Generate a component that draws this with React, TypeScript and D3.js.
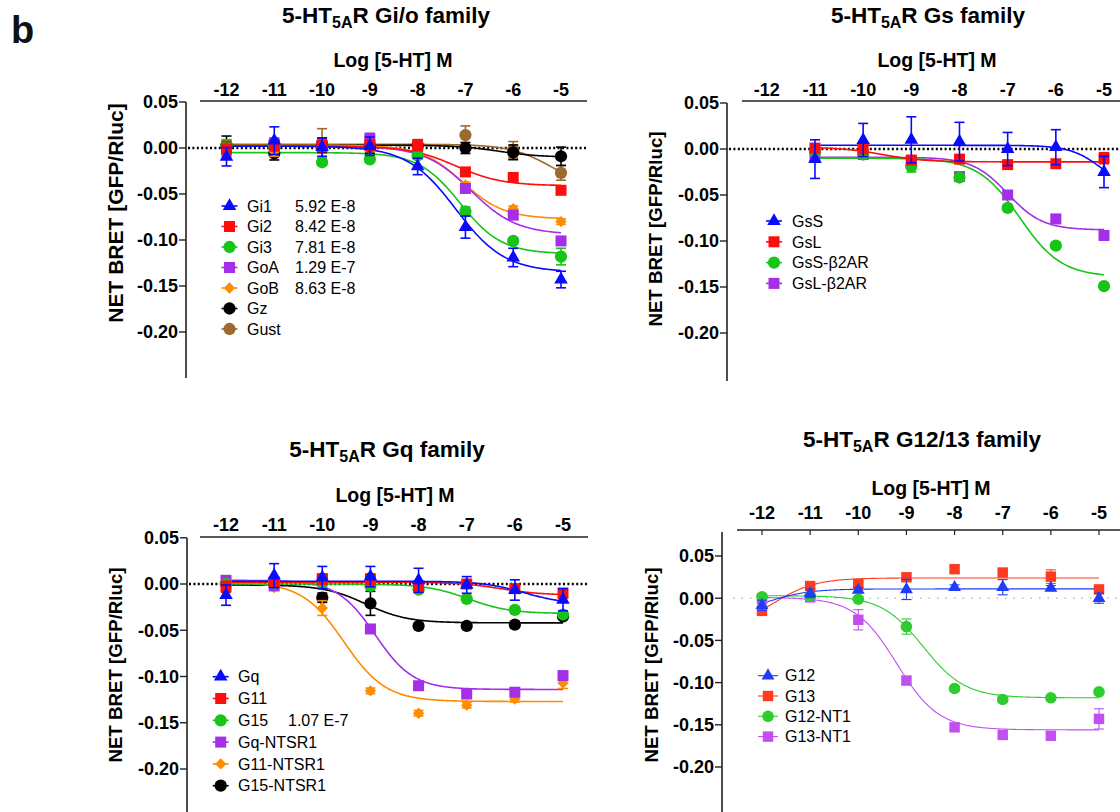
import React from 'react';
import * as d3 from 'd3';

const FONT = '"Liberation Sans", Arial, Helvetica, sans-serif';

// x values (log [5-HT] M)
const doses = [-12, -11, -10, -9, -8, -7, -6, -5];
const dosesGs = [-11, -10, -9, -8, -7, -6, -5];
const xTicks = [-12, -11, -10, -9, -8, -7, -6, -5];
const yTicks = [0.05, 0, -0.05, -0.1, -0.15, -0.2];

// ---- Gi/o family ----
const giNames = ['Gi1', 'Gi2', 'Gi3', 'GoA', 'GoB', 'Gz', 'Gust'];
const giEC50 = ['5.92 E-8', '8.42 E-8', '7.81 E-8', '1.29 E-7', '8.63 E-8', '', ''];
const giColors = ['#0a0aff', '#ff0d0d', '#19c419', '#a52ee8', '#ff8c00', '#000000', '#9a6a2f'];
const giShapes = ['tri', 'sq', 'circ', 'sq', 'dia', 'circ', 'circ'];
const giMeans = [
  [-0.0095, 0.008, 0.001, 0.002, -0.02, -0.086, -0.119, -0.143],
  [-0.001, 0.003, 0.002, 0.003, 0.003, -0.026, -0.032, -0.046],
  [0.003, 0.002, -0.0155, -0.0123, -0.008, -0.069, -0.101, -0.118],
  [0.0, 0.004, 0.003, 0.01, -0.006, -0.044, -0.073, -0.101],
  [0.003, -0.004, 0.002, 0.003, -0.002, -0.04, -0.066, -0.08],
  [0.003, -0.006, 0.003, 0.002, 0.003, 0.0, -0.0047, -0.009],
  [0.003, 0.005, 0.005, 0.003, 0.003, 0.014, -0.002, -0.027],
];
const giErrors = [
  [0.01, 0.015, 0.01, 0.01, 0.009, 0.012, 0.01, 0.009],
  [0.008, 0.006, 0.006, 0.006, 0.006, 0.004, 0.003, 0.004],
  [0.006, 0.005, 0.003, 0.003, 0.004, 0.005, 0.003, 0.009],
  [0.007, 0.006, 0.006, 0.006, 0.004, 0.005, 0.004, 0.004],
  [0.005, 0.005, 0.005, 0.005, 0.003, 0.003, 0.003, 0.003],
  [0.01, 0.007, 0.008, 0.008, 0.006, 0.006, 0.008, 0.01],
  [0.006, 0.006, 0.016, 0.008, 0.005, 0.01, 0.009, 0.008],
];
// fit params: [start, end, logEC50, hill]
const giFits = [
  [0.002, -0.135, -7.2, 0.85],
  [0.002, -0.041, -7.2, 0.9],
  [-0.005, -0.115, -7.11, 1],
  [0.002, -0.094, -6.89, 0.9],
  [0.003, -0.077, -7.06, 1],
  [0.003, -0.01, -6.3, 1],
  [0.004, -0.045, -5.2, 1],
];

// ---- Gs family ----
const gsNames = ['GsS', 'GsL', 'GsS-β2AR', 'GsL-β2AR'];
const gsColors = ['#0a0aff', '#ff0d0d', '#19c419', '#a52ee8'];
const gsShapes = ['tri', 'sq', 'circ', 'sq'];
const gsMeans = [
  [-0.011, 0.0098, 0.01, 0.008, 0.0, 0.002, -0.025],
  [0.001, 0.0, -0.012, -0.011, -0.017, -0.016, -0.01],
  [-0.003, -0.006, -0.019, -0.031, -0.064, -0.105, -0.149],
  [-0.008, -0.006, -0.014, -0.03, -0.05, -0.076, -0.094],
];
const gsErrors = [
  [0.021, 0.018, 0.025, 0.021, 0.018, 0.019, 0.017],
  [0.003, 0.003, 0.003, 0.003, 0.003, 0.003, 0.006],
  [0.003, 0.003, 0.006, 0.003, 0.003, 0.003, 0.003],
  [0.003, 0.003, 0.003, 0.003, 0.003, 0.003, 0.003],
];
const gsFits = [
  [0.004, -0.05, -5.0, 1.3],
  [0.002, -0.014, -9.6, 1],
  [-0.01, -0.139, -6.75, 1],
  [-0.009, -0.088, -7.0, 1.2],
];

// ---- Gq family ----
const gqNames = ['Gq', 'G11', 'G15', 'Gq-NTSR1', 'G11-NTSR1', 'G15-NTSR1'];
const gqEC50 = ['', '', '1.07 E-7', '', '', ''];
const gqColors = ['#0a0aff', '#ff0d0d', '#19c419', '#a52ee8', '#ff8c00', '#000000'];
const gqShapes = ['tri', 'sq', 'circ', 'sq', 'dia', 'circ'];
const gqMeans = [
  [-0.012, 0.009, 0.007, 0.008, 0.004, -0.001, -0.0065, -0.017],
  [-0.003, 0.002, 0.005, 0.005, -0.002, 0.0, -0.005, -0.01],
  [0.0, 0.001, 0.001, -0.002, -0.006, -0.016, -0.028, -0.033],
  [0.004, -0.002, 0.006, -0.0486, -0.11, -0.119, -0.117, -0.099],
  [0.003, -0.004, -0.026, -0.1155, -0.1397, -0.131, -0.1245, -0.107],
  [0.0, 0.0, -0.0148, -0.0209, -0.0454, -0.0454, -0.044, -0.035],
];
const gqErrors = [
  [0.011, 0.013, 0.012, 0.011, 0.013, 0.009, 0.011, 0.012],
  [0.006, 0.005, 0.005, 0.006, 0.004, 0.004, 0.004, 0.005],
  [0.003, 0.003, 0.003, 0.003, 0.003, 0.003, 0.003, 0.003],
  [0.003, 0.003, 0.003, 0.003, 0.004, 0.004, 0.004, 0.004],
  [0.003, 0.003, 0.008, 0.003, 0.003, 0.003, 0.003, 0.006],
  [0.006, 0.003, 0.005, 0.013, 0.003, 0.003, 0.003, 0.003],
];
const gqFits = [
  [0.003, -0.022, -5.8, 1],
  [0.002, -0.012, -6.3, 1],
  [0.0, -0.032, -6.97, 1],
  [0.004, -0.114, -8.9, 1.1],
  [0.002, -0.127, -9.55, 1],
  [-0.001, -0.042, -9.1, 1],
];

// ---- G12/13 family ----
const g12Names = ['G12', 'G13', 'G12-NT1', 'G13-NT1'];
const g12Colors = ['#1f3df5', '#ff3b1f', '#2ecc2e', '#c24ff0'];
const g12Shapes = ['tri', 'sq', 'circ', 'sq'];
const g12Means = [
  [-0.0084, 0.0056, 0.0096, 0.0104, 0.0128, 0.013, 0.012, 0.0],
  [-0.015, 0.0144, 0.0168, 0.0248, 0.0344, 0.0304, 0.0256, 0.0104],
  [0.0016, 0.0024, -0.0012, -0.0336, -0.107, -0.12, -0.118, -0.111],
  [-0.001, 0.001, -0.0256, -0.0976, -0.153, -0.162, -0.163, -0.143],
];
const g12Errors = [
  [0.006, 0.005, 0.003, 0.012, 0.003, 0.009, 0.003, 0.006],
  [0.004, 0.003, 0.003, 0.004, 0.003, 0.003, 0.008, 0.003],
  [0.004, 0.003, 0.003, 0.009, 0.003, 0.003, 0.003, 0.003],
  [0.003, 0.003, 0.012, 0.004, 0.003, 0.003, 0.003, 0.012],
];
const g12Fits = [
  [-0.02, 0.011, -11.9, 1],
  [-0.035, 0.024, -11.75, 1],
  [0.003, -0.118, -8.65, 1],
  [0.001, -0.156, -9.2, 1],
];

const fit4pl = (p: number[], x: number) => p[1] + (p[0] - p[1]) / (1 + Math.pow(10, (x - p[2]) * p[3]));

const symbolPath = (shape: string, light: boolean) => {
  const k = light ? 0.9 : 1;
  if (shape === 'tri') return d3.symbol(d3.symbolTriangle, 80 * k)()!;
  if (shape === 'sq') return d3.symbol(d3.symbolSquare, 121 * k)()!;
  if (shape === 'dia') return d3.symbol(d3.symbolSquare, 64 * k)()!;
  return d3.symbol(d3.symbolCircle, 118 * k)()!;
};

const Marker = ({ shape, color, x, y, light }: any) => (
  <path
    d={symbolPath(shape, light)}
    fill={color}
    transform={`translate(${x},${y})${shape === 'dia' ? ' rotate(45)' : ''}`}
  />
);

const Title = ({ x, y, family }: any) => (
  <text x={x} y={y} textAnchor="middle" fontSize={22.5} fontWeight="bold" fontFamily={FONT}>
    5-HT<tspan dy={5} fontSize={16}>5A</tspan>
    <tspan dy={-5}>R {family} family</tspan>
  </text>
);

const Panel = ({ cfg }: any) => {
  const x = d3.scaleLinear().domain([-12, -5]).range(cfg.xr);
  const y = d3.scaleLinear().domain([0.05, -0.2]).range(cfg.yr);
  const lw = cfg.light ? 1.1 : 1.6;
  const line = d3.line<number>().x((d) => x(d)).y((d) => y(0));
  const order = cfg.names.map((_: string, i: number) => i).reverse();
  const curveXs = d3.range(cfg.curveStart, -5 + 1e-9, 0.02);
  return (
    <g fontFamily={FONT}>
      <Title x={cfg.titleX} y={cfg.titleY} family={cfg.family} />
      <text x={cfg.axLabX} y={cfg.axLabY} textAnchor="middle" fontSize={19.5} fontWeight="bold">
        Log [5-HT] M
      </text>
      {/* top x axis */}
      <line x1={cfg.xAxisFrom} x2={cfg.xAxisTo} y1={cfg.xAxisY} y2={cfg.xAxisY} stroke="#222" strokeWidth={1.6} />
      {xTicks.map((t) => (
        <g key={t}>
          {cfg.ticksDown && (
            <line x1={x(t)} x2={x(t)} y1={cfg.xAxisY} y2={cfg.xAxisY + 5} stroke="#222" strokeWidth={1.2} />
          )}
          <text x={x(t)} y={cfg.tickLabelY} textAnchor="middle" fontSize={18} fontWeight="bold">
            {t}
          </text>
        </g>
      ))}
      {/* y axis */}
      <line x1={cfg.yAxisX} x2={cfg.yAxisX} y1={cfg.yAxisTop} y2={cfg.yAxisBottom} stroke="#222" strokeWidth={1.6} />
      {yTicks.map((t) => (
        <g key={t}>
          <line x1={cfg.yAxisX - 7} x2={cfg.yAxisX} y1={y(t)} y2={y(t)} stroke="#222" strokeWidth={1.4} />
          <text x={cfg.yAxisX - 8} y={y(t)} dy="0.36em" textAnchor="end" fontSize={18} fontWeight="bold">
            {t.toFixed(2)}
          </text>
        </g>
      ))}
      <text
        transform={`translate(${cfg.yLabX},${cfg.yLabY}) rotate(-90)`}
        textAnchor="middle"
        dy="0.36em"
        fontSize={cfg.yLabSize}
        fontWeight="bold"
      >
        NET BRET [GFP/Rluc]
      </text>
      {/* zero line */}
      <path
        d={line([cfg.zeroFrom, cfg.zeroTo].map((v: number) => x.invert(v)))!}
        stroke={cfg.light ? '#b0b0b0' : '#000'}
        strokeWidth={cfg.light ? 1.2 : 2.4}
        strokeDasharray={cfg.light ? '1.5 7' : '2 2.4'}
        fill="none"
      />
      {/* fitted curves */}
      {order.map((i: number) => (
        <path
          key={'c' + i}
          d={d3.line<number>().x((d) => x(d)).y((d) => y(fit4pl(cfg.fits[i], d)))(curveXs)!}
          stroke={cfg.colors[i]}
          strokeWidth={lw}
          fill="none"
        />
      ))}
      {/* error bars + points */}
      {order.map((i: number) => (
        <g key={'s' + i}>
          {cfg.doses.map((dz: number, j: number) => {
            const m = cfg.means[i][j];
            const e = cfg.errors[i][j];
            const px = x(dz);
            return (
              <g key={j} stroke={cfg.colors[i]} strokeWidth={lw}>
                <line x1={px} x2={px} y1={y(m - e)} y2={y(m + e)} />
                <line x1={px - 5} x2={px + 5} y1={y(m - e)} y2={y(m - e)} />
                <line x1={px - 5} x2={px + 5} y1={y(m + e)} y2={y(m + e)} />
              </g>
            );
          })}
          {cfg.doses.map((dz: number, j: number) => (
            <Marker key={'m' + j} shape={cfg.shapes[i]} color={cfg.colors[i]} x={x(dz)} y={y(cfg.means[i][j])} light={cfg.light} />
          ))}
        </g>
      ))}
      {/* legend */}
      {cfg.names.map((n: string, i: number) => {
        const ly = cfg.legY + i * cfg.legDy;
        return (
          <g key={'l' + n}>
            <line x1={cfg.legMx - cfg.legHalf} x2={cfg.legMx + cfg.legHalf} y1={ly} y2={ly} stroke={cfg.colors[i]} strokeWidth={lw} />
            <Marker shape={cfg.shapes[i]} color={cfg.colors[i]} x={cfg.legMx} y={ly} light={cfg.light} />
            <text x={cfg.legTx} y={ly} dy="0.36em" fontSize={16}>
              {n}
            </text>
            {cfg.ec50 && cfg.ec50[i] && (
              <text x={cfg.legEcx} y={ly} dy="0.36em" fontSize={16}>
                {cfg.ec50[i]}
              </text>
            )}
          </g>
        );
      })}
    </g>
  );
};

const panels = [
  {
    family: 'Gi/o', titleX: 386, titleY: 23, axLabX: 393, axLabY: 67,
    xr: [226.5, 561], yr: [102, 332],
    xAxisY: 101, xAxisFrom: 200, xAxisTo: 587, tickLabelY: 96, ticksDown: false,
    yAxisX: 186, yAxisTop: 102, yAxisBottom: 378,
    yLabX: 115, yLabY: 213, yLabSize: 21,
    zeroFrom: 188, zeroTo: 587, light: false, curveStart: -12,
    legMx: 229.5, legHalf: 8, legTx: 247, legEcx: 295, legY: 206, legDy: 20.5,
    names: giNames, ec50: giEC50, colors: giColors, shapes: giShapes,
    doses, means: giMeans, errors: giErrors, fits: giFits,
  },
  {
    family: 'Gs', titleX: 928, titleY: 23, axLabX: 937, axLabY: 67,
    xr: [766.8, 1104], yr: [103, 333],
    xAxisY: 101, xAxisFrom: 742, xAxisTo: 1125, tickLabelY: 96, ticksDown: false,
    yAxisX: 727, yAxisTop: 103, yAxisBottom: 381,
    yLabX: 655, yLabY: 229, yLabSize: 18.7,
    zeroFrom: 729, zeroTo: 1125, light: false, curveStart: -11,
    legMx: 774, legHalf: 8, legTx: 792, legEcx: 0, legY: 221, legDy: 20.8,
    names: gsNames, ec50: null, colors: gsColors, shapes: gsShapes,
    doses: dosesGs, means: gsMeans, errors: gsErrors, fits: gsFits,
  },
  {
    family: 'Gq', titleX: 387, titleY: 457, axLabX: 395, axLabY: 502,
    xr: [226, 563], yr: [537.75, 769],
    xAxisY: 537, xAxisFrom: 200, xAxisTo: 588, tickLabelY: 531, ticksDown: false,
    yAxisX: 187, yAxisTop: 538, yAxisBottom: 830,
    yLabX: 115, yLabY: 665, yLabSize: 18.7,
    zeroFrom: 189, zeroTo: 588, light: false, curveStart: -12,
    legMx: 220.7, legHalf: 8, legTx: 238, legEcx: 288, legY: 676.7, legDy: 21.8,
    names: gqNames, ec50: gqEC50, colors: gqColors, shapes: gqShapes,
    doses, means: gqMeans, errors: gqErrors, fits: gqFits,
  },
  {
    family: 'G12/13', titleX: 922, titleY: 447, axLabX: 931, axLabY: 495,
    xr: [762, 1099], yr: [556, 767],
    xAxisY: 530, xAxisFrom: 737, xAxisTo: 1125, tickLabelY: 519, ticksDown: true,
    yAxisX: 722, yAxisTop: 532, yAxisBottom: 830,
    yLabX: 651, yLabY: 665, yLabSize: 18.7,
    zeroFrom: 733, zeroTo: 1125, light: true, curveStart: -12,
    legMx: 768, legHalf: 10, legTx: 785, legEcx: 0, legY: 675.7, legDy: 20.3,
    names: g12Names, ec50: null, colors: g12Colors, shapes: g12Shapes,
    doses, means: g12Means, errors: g12Errors, fits: g12Fits,
  },
];

export default function App() {
  return (
    <svg
      width={1120}
      height={812}
      style={{ position: 'absolute', left: 0, top: 0, background: '#fff' }}
    >
      <rect width={1120} height={812} fill="#fff" />
      <text x={11} y={43} fontSize={38} fontWeight="bold" fontFamily={FONT} fill="#111">
        b
      </text>
      {panels.map((p, i) => (
        <Panel key={i} cfg={p} />
      ))}
    </svg>
  );
}
